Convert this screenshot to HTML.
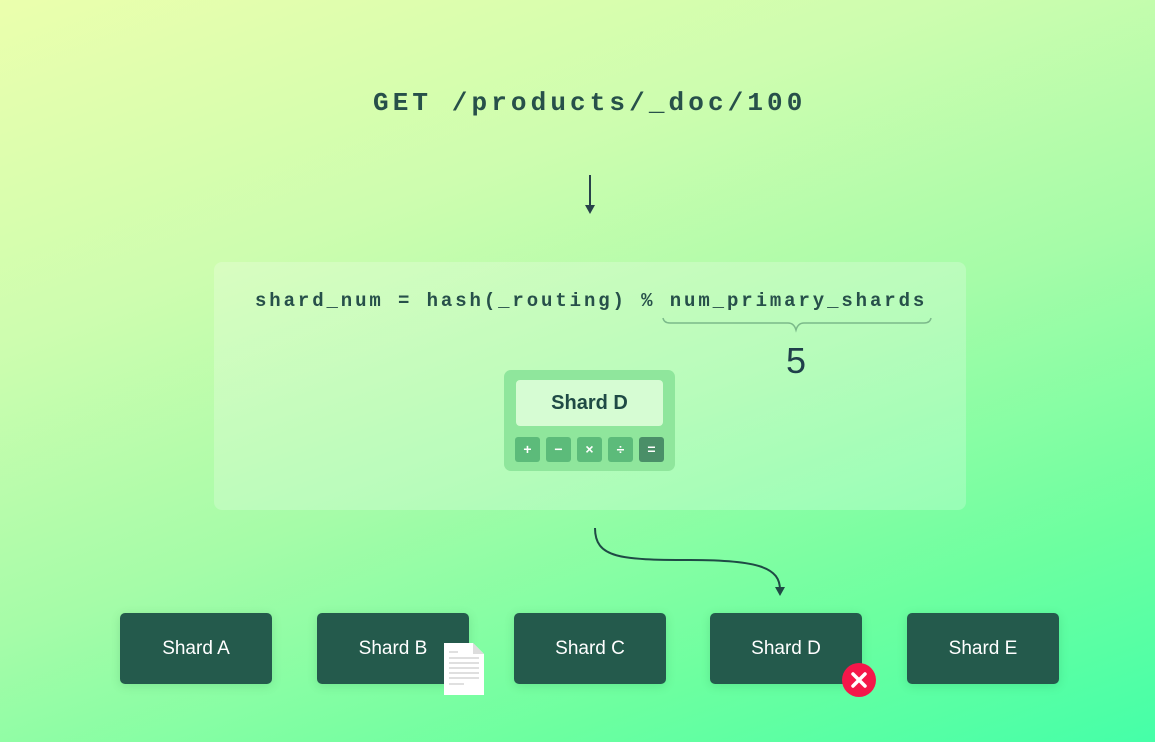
<!DOCTYPE html>
<html><head><meta charset="utf-8"><style>
html,body{margin:0;padding:0}
body{width:1155px;height:742px;position:relative;overflow:hidden;font-family:"Liberation Sans",sans-serif;
background:linear-gradient(160deg,#ebffad 0%,#cdfdaf 30%,#a5fca8 55%,#6dffa0 80%,#45ffa8 100%);}
.abs{position:absolute}
.mono{font-family:"Liberation Mono",monospace;font-weight:bold;color:#27504a;white-space:nowrap}
.panel{left:214px;top:262px;width:752px;height:248px;background:rgba(255,255,255,0.22);border-radius:8px}
.calc{left:504px;top:370px;width:171px;height:101px;background:#8fe69c;border-radius:7px}
.disp{left:12px;top:10px;width:147px;height:46px;background:#d6fcd3;border-radius:4px;text-align:center;line-height:46px;font-weight:bold;font-size:20px;color:#1f4a45}
.btn{top:67px;width:25px;height:25px;background:#5cbb7a;border-radius:3px;color:#fff;font-weight:bold;font-size:14px;text-align:center;line-height:25px}
.shard{top:613px;width:152px;height:71px;background:#245a4c;border-radius:5px;color:#fff;font-size:19px;text-align:center;line-height:71px;box-shadow:0 2px 10px rgba(0,80,40,0.15)}
</style></head><body>
<div class="abs mono" style="left:373px;top:88px;font-size:26px;letter-spacing:4.1px">GET /products/_doc/100</div>
<svg class="abs" style="left:0;top:0" width="1155" height="742">
<line x1="590" y1="175" x2="590" y2="208" stroke="#27414a" stroke-width="2"/>
<polygon points="585,205 595,205 590,214" fill="#27414a"/>
<path d="M595,528 C595,558 620,560 690,560 C760,560 780,568 780,590" fill="none" stroke="#1f4a45" stroke-width="2"/>
<polygon points="775,587 785,587 780,596" fill="#1f4a45"/>
</svg>
<div class="abs panel"></div>
<div class="abs mono" style="left:255px;top:290px;font-size:19px;letter-spacing:2.9px">shard_num = hash(_routing) % num_primary_shards</div>
<svg class="abs" style="left:0;top:0" width="1155" height="742">
<path d="M663,318 Q664,323 670,323 L788,323 Q794,323 796,330 Q798,323 804,323 L924,323 Q930,323 931,318" fill="none" stroke="#7bb98a" stroke-width="1.5"/>
</svg>
<div class="abs" style="left:780px;top:340px;font-size:36px;color:#1f3f4a;width:32px;text-align:center">5</div>
<div class="abs calc">
<div class="abs disp">Shard D</div>
<div class="abs btn" style="left:11px">+</div>
<div class="abs btn" style="left:42px">−</div>
<div class="abs btn" style="left:73px">×</div>
<div class="abs btn" style="left:104px">÷</div>
<div class="abs btn" style="left:135px;background:#4a8f68">=</div>
</div>
<div class="abs shard" style="left:120px">Shard A</div>
<div class="abs shard" style="left:317px">Shard B</div>
<div class="abs shard" style="left:514px">Shard C</div>
<div class="abs shard" style="left:710px">Shard D</div>
<div class="abs shard" style="left:907px">Shard E</div>
<svg class="abs" style="left:444px;top:643px" width="42" height="54">
<path d="M0,0 L29,0 L40,11 L40,52 L0,52 Z" fill="#fff"/>
<path d="M29,0 L29,11 L40,11 Z" fill="#ddd"/>
<g stroke="#ccc" stroke-width="1.2">
<line x1="5" y1="9" x2="14" y2="9"/><line x1="5" y1="15" x2="35" y2="15"/><line x1="5" y1="20" x2="35" y2="20"/>
<line x1="5" y1="25" x2="35" y2="25"/><line x1="5" y1="30" x2="35" y2="30"/><line x1="5" y1="35" x2="35" y2="35"/><line x1="5" y1="41" x2="20" y2="41"/>
</g></svg>
<svg class="abs" style="left:841px;top:662px" width="36" height="36">
<circle cx="18" cy="18" r="17" fill="#f5174a"/>
<path d="M12,12 L24,24 M24,12 L12,24" stroke="#fff" stroke-width="3.5" stroke-linecap="round"/>
</svg>
</body></html>
